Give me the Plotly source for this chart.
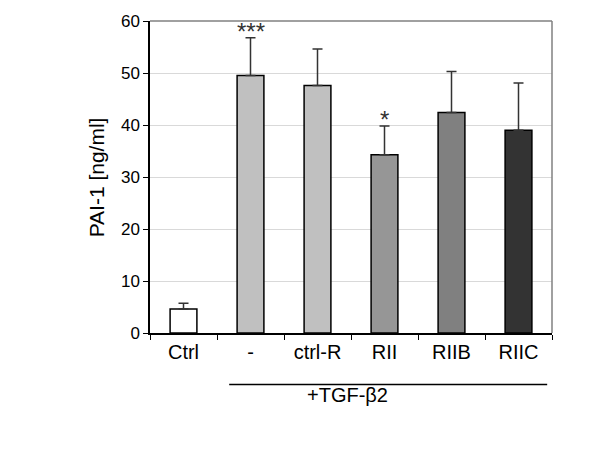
import plotly.graph_objects as go

categories = ["Ctrl", "-", "ctrl-R", "RII", "RIIB", "RIIC"]
values = [4.6, 49.5, 47.6, 34.3, 42.4, 39.0]
err_top = [5.7, 56.8, 54.6, 39.8, 50.3, 48.1]
colors = ["#ffffff", "#c0c0c0", "#c0c0c0", "#969696", "#808080", "#333333"]
stars = ["", "***", "", "*", "", ""]

errs = [t - v for t, v in zip(err_top, values)]

FONT = "Liberation Sans"

fig = go.Figure()
fig.add_trace(go.Bar(
    x=categories, y=values,
    marker=dict(color=colors, line=dict(color="#000000", width=1.5)),
    width=0.4,
    error_y=dict(type="data", symmetric=False, array=errs, arrayminus=[0]*len(errs),
                 color="#333333", thickness=1.5, width=5),
    showlegend=False,
))

for c, s, t in zip(categories, stars, err_top):
    if s:
        fig.add_annotation(x=c, y=t, text=s, showarrow=False, yanchor="bottom", yshift=-9,
                           font=dict(size=24, color="#333333", family=FONT))

fig.add_shape(type="line", xref="paper", yref="paper", x0=0.197, x1=0.988, y0=-0.165, y1=-0.165,
              line=dict(color="#000000", width=1.5))
fig.add_annotation(xref="paper", yref="paper", x=0.4925, y=-0.24, text="+TGF-β2", showarrow=False,
                   font=dict(size=20, color="#000000", family=FONT))
fig.add_annotation(xref="paper", yref="paper", x=-0.167, y=0.5, text="PAI-1 [ng/ml]", showarrow=False,
                   textangle=-90, font=dict(size=21, color="#000000", family=FONT))
# plot frame (top/right gray)
fig.add_shape(type="line", xref="paper", yref="paper", x0=0, x1=1, y0=1, y1=1,
              line=dict(color="#808080", width=1.5))
fig.add_shape(type="line", xref="paper", yref="paper", x0=1, x1=1, y0=0, y1=1,
              line=dict(color="#808080", width=1.5))

fig.update_layout(
    width=600, height=467,
    margin=dict(l=150, r=48, t=12, b=134),
    paper_bgcolor="white", plot_bgcolor="white",
    font=dict(family=FONT, size=16, color="#000000"),
    xaxis=dict(type="category", tickson="boundaries", ticks="outside", ticklen=5,
               tickcolor="#000000", showline=True, linecolor="#000000", linewidth=1.5,
               showgrid=False, tickfont=dict(size=20)),
    yaxis=dict(range=[0, 60], dtick=10, ticks="outside", ticklen=5, tickcolor="#000000",
               showline=True, linecolor="#000000", linewidth=1.5,
               showgrid=True, gridcolor="#d9d9d9", gridwidth=1, zeroline=False,
               tickfont=dict(size=17)),
    bargap=0.6,
)

fig.write_html("out.html", config={"displayModeBar": False},
               post_script="document.body.style.margin='0';document.body.style.overflow='hidden';")
